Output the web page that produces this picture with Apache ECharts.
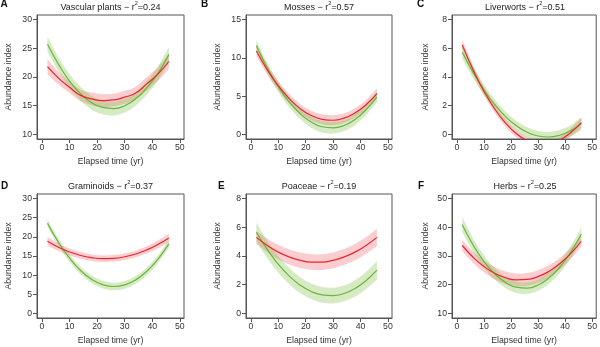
<!DOCTYPE html>
<html>
<head>
<meta charset="utf-8">
<script src="https://cdn.jsdelivr.net/npm/echarts@6/dist/echarts.min.js"></script>
<style>
html,body{margin:0;padding:0;background:#fff;}
#chart{width:600px;height:347px;}
</style>
</head>
<body>
<div id="chart"></div>
<script>
// ---------------- data ----------------
const years = [2, 6, 10, 14, 18, 22, 26, 30, 34, 38, 42, 46];
const xTicks = [0, 10, 20, 30, 40, 50];

const panelLetters = ['A', 'B', 'C', 'D', 'E', 'F'];
const panelTitles = ['Vascular plants', 'Mosses', 'Liverworts', 'Graminoids', 'Poaceae', 'Herbs'];
const panelR2 = ['0.24', '0.57', '0.51', '0.37', '0.19', '0.25'];

const yTicksA = [10, 15, 20, 25, 30];
const yTicksB = [0, 5, 10, 15];
const yTicksC = [0, 2, 4, 6, 8];
const yTicksD = [0, 5, 10, 15, 20, 25, 30];
const yTicksE = [0, 2, 4, 6, 8];
const yTicksF = [10, 20, 30, 40, 50];

// A - Vascular plants
const vascRed     = [21.8, 19.8, 18.2, 16.8, 16.2, 15.9, 16.0, 16.5, 17.2, 18.8, 20.5, 22.7];
const vascRedLo   = [20.5, 18.7, 17.2, 15.8, 15.1, 14.8, 14.9, 15.4, 16.1, 17.6, 19.3, 21.4];
const vascRedHi   = [23.1, 20.9, 19.2, 17.8, 17.3, 17.0, 17.1, 17.6, 18.3, 20.0, 21.7, 24.0];
const vascGreen   = [25.7, 22.2, 19.3, 17.1, 15.5, 14.7, 14.5, 15.0, 16.2, 18.1, 20.6, 23.9];
const vascGreenLo = [24.4, 21.0, 18.1, 15.9, 14.3, 13.5, 13.3, 13.8, 15.0, 16.9, 19.4, 22.6];
const vascGreenHi = [27.0, 23.4, 20.5, 18.3, 16.7, 15.9, 15.7, 16.2, 17.4, 19.3, 21.8, 25.2];

// B - Mosses
const mossRed     = [10.9, 8.42, 6.35, 4.67, 3.37, 2.47, 1.97, 1.85, 2.13, 2.81, 3.87, 5.33];
const mossRedLo   = [10.2, 7.80, 5.75, 4.07, 2.77, 1.85, 1.32, 1.20, 1.50, 2.20, 3.25, 4.63];
const mossRedHi   = [11.6, 9.05, 6.95, 5.27, 3.97, 3.10, 2.62, 2.50, 2.75, 3.42, 4.50, 6.03];
const mossGreen   = [11.6, 8.67, 6.22, 4.22, 2.69, 1.61, 1.00, 0.86, 1.17, 1.96, 3.20, 4.90];
const mossGreenLo = [10.9, 8.00, 5.57, 3.55, 2.00, 0.88, 0.25, 0.11, 0.43, 1.24, 2.50, 4.20];
const mossGreenHi = [12.3, 9.35, 6.87, 4.90, 3.40, 2.35, 1.75, 1.61, 1.90, 2.68, 3.90, 5.60];

// C - Liverworts
const livRed     = [6.24, 4.50, 3.01, 1.77, 0.79, 0.05, -0.44, -0.67, -0.66, -0.40, 0.11, 0.82];
const livRedLo   = [5.89, 4.18, 2.72, 1.50, 0.54, -0.20, -0.70, -0.93, -0.92, -0.66, -0.18, 0.47];
const livRedHi   = [6.59, 4.82, 3.30, 2.04, 1.04, 0.30, -0.18, -0.41, -0.40, -0.14, 0.40, 1.17];
const livGreen   = [5.73, 4.32, 3.11, 2.08, 1.24, 0.60, 0.15, -0.11, -0.18, -0.06, 0.25, 0.75];
const livGreenLo = [5.28, 3.92, 2.74, 1.73, 0.90, 0.26, -0.20, -0.46, -0.53, -0.42, -0.13, 0.30];
const livGreenHi = [6.18, 4.72, 3.48, 2.43, 1.58, 0.94, 0.50, 0.24, 0.17, 0.30, 0.63, 1.20];

// D - Graminoids
const gramRed     = [18.85, 17.29, 16.05, 15.14, 14.56, 14.31, 14.39, 14.80, 15.53, 16.59, 17.98, 19.70];
const gramRedLo   = [17.75, 16.30, 15.12, 14.26, 13.71, 13.46, 13.54, 13.95, 14.66, 15.64, 16.93, 18.60];
const gramRedHi   = [19.95, 18.28, 16.98, 16.02, 15.41, 15.16, 15.24, 15.65, 16.40, 17.54, 19.03, 20.80];
const gramGreen   = [23.57, 18.55, 14.43, 11.22, 8.92, 7.52, 7.03, 7.44, 8.76, 11.00, 14.13, 18.17];
const gramGreenLo = [22.57, 17.60, 13.50, 10.25, 7.92, 6.52, 6.03, 6.44, 7.76, 10.00, 13.13, 17.17];
const gramGreenHi = [24.57, 19.50, 15.36, 12.19, 9.92, 8.52, 8.03, 8.44, 9.76, 12.00, 15.13, 19.17];

// E - Poaceae
const poaRed     = [5.30, 4.73, 4.27, 3.93, 3.70, 3.58, 3.58, 3.70, 3.93, 4.27, 4.73, 5.30];
const poaRedLo   = [4.85, 4.25, 3.76, 3.40, 3.16, 3.04, 3.03, 3.15, 3.38, 3.70, 4.15, 4.70];
const poaRedHi   = [5.75, 5.21, 4.78, 4.46, 4.24, 4.12, 4.13, 4.25, 4.48, 4.84, 5.31, 5.90];
const poaGreen   = [5.66, 4.44, 3.42, 2.60, 1.97, 1.53, 1.29, 1.24, 1.39, 1.74, 2.28, 3.01];
const poaGreenLo = [5.01, 3.84, 2.84, 2.04, 1.42, 0.98, 0.74, 0.69, 0.84, 1.17, 1.68, 2.36];
const poaGreenHi = [6.31, 5.04, 4.00, 3.16, 2.52, 2.08, 1.84, 1.79, 1.94, 2.31, 2.88, 3.66];

// F - Herbs
const herbRed     = [33.66, 29.58, 26.36, 23.96, 22.42, 21.71, 21.84, 22.82, 24.63, 27.29, 30.80, 35.14];
const herbRedLo   = [31.76, 27.60, 24.30, 21.80, 20.22, 19.51, 19.64, 20.62, 22.50, 25.25, 28.85, 33.30];
const herbRedHi   = [35.56, 31.56, 28.42, 26.12, 24.62, 23.91, 24.04, 25.02, 26.76, 29.33, 32.75, 36.98];
const herbGreen   = [40.86, 33.81, 28.12, 23.77, 20.78, 19.14, 18.84, 19.91, 22.32, 26.08, 31.20, 37.66];
const herbGreenLo = [38.26, 31.50, 26.00, 21.77, 18.78, 17.14, 16.84, 17.91, 20.30, 24.00, 29.05, 35.46];
const herbGreenHi = [43.46, 36.12, 30.24, 25.77, 22.78, 21.14, 20.84, 21.91, 24.34, 28.16, 33.35, 39.86];

// ---------------- layout / style ----------------
const FONT = '"Liberation Sans", Arial, Helvetica, sans-serif';
const RED = '#e8262b', GREEN = '#6cb33f';
const RED_BAND = 'rgba(238,90,100,0.30)', GREEN_BAND = 'rgba(120,190,60,0.30)';
const AXIS_COL = '#555';

const panels = [
  {yt: yTicksA, r: vascRed, rl: vascRedLo, rh: vascRedHi, g: vascGreen, gl: vascGreenLo, gh: vascGreenHi},
  {yt: yTicksB, r: mossRed, rl: mossRedLo, rh: mossRedHi, g: mossGreen, gl: mossGreenLo, gh: mossGreenHi},
  {yt: yTicksC, r: livRed, rl: livRedLo, rh: livRedHi, g: livGreen, gl: livGreenLo, gh: livGreenHi},
  {yt: yTicksD, r: gramRed, rl: gramRedLo, rh: gramRedHi, g: gramGreen, gl: gramGreenLo, gh: gramGreenHi},
  {yt: yTicksE, r: poaRed, rl: poaRedLo, rh: poaRedHi, g: poaGreen, gl: poaGreenLo, gh: poaGreenHi},
  {yt: yTicksF, r: herbRed, rl: herbRedLo, rh: herbRedHi, g: herbGreen, gl: herbGreenLo, gh: herbGreenHi}
];

const gridBoxes = [
  {left: 37, top: 15, width: 147, height: 124},
  {left: 246, top: 15, width: 146, height: 124},
  {left: 452, top: 15, width: 146, height: 124},
  {left: 37, top: 194, width: 147, height: 124},
  {left: 246, top: 194, width: 146, height: 124},
  {left: 452, top: 194, width: 146, height: 124}
];
const yNameGaps = [24, 24, 21.5, 24, 24, 21.5];
const letterPos = [[0.5, 4.5], [201, 4.5], [417, 4.5], [1, 186], [218, 186], [418, 186]];

const grids = [], xAxes = [], yAxes = [], series = [], graphics = [];

function pairs(arr) { return years.map((x, j) => [x, arr[j]]); }
function bandTriples(lo, hi) { return years.map((x, j) => [x, lo[j], hi[j]]); }

// Catmull-Rom -> cubic bezier path through pixel points (rendering only)
function curvePath(pts) {
  let d = '';
  for (let k = 0; k < pts.length - 1; k++) {
    const p0 = pts[k - 1] || pts[k], p1 = pts[k], p2 = pts[k + 1], p3 = pts[k + 2] || pts[k + 1];
    const c1x = p1[0] + (p2[0] - p0[0]) / 6, c1y = p1[1] + (p2[1] - p0[1]) / 6;
    const c2x = p2[0] - (p3[0] - p1[0]) / 6, c2y = p2[1] - (p3[1] - p1[1]) / 6;
    d += ' C' + c1x.toFixed(2) + ' ' + c1y.toFixed(2) + ' ' + c2x.toFixed(2) + ' ' + c2y.toFixed(2) + ' ' + p2[0].toFixed(2) + ' ' + p2[1].toFixed(2);
  }
  return d;
}

function bandRenderer(color) {
  return function (params, api) {
    if (params.dataIndexInside !== 0) return null;
    const n = params.dataInsideLength;
    const up = [], low = [];
    for (let k = 0; k < n; k++) {
      up.push(api.coord([api.value(0, k), api.value(2, k)]));
      low.push(api.coord([api.value(0, k), api.value(1, k)]));
    }
    low.reverse();
    const d = 'M' + up[0][0].toFixed(2) + ' ' + up[0][1].toFixed(2) + curvePath(up) +
              ' L' + low[0][0].toFixed(2) + ' ' + low[0][1].toFixed(2) + curvePath(low) + ' Z';
    return {type: 'path', shape: {pathData: d}, style: {fill: color, stroke: null}, silent: true};
  };
}

panels.forEach((p, i) => {
  const gb = gridBoxes[i];
  grids.push(Object.assign({show: true, borderColor: AXIS_COL, borderWidth: 1, backgroundColor: 'transparent', containLabel: false}, gb));

  xAxes.push({
    gridIndex: i, type: 'value', min: -1.8, max: 51.5,
    splitLine: {show: false},
    axisLine: {show: true, onZero: false, lineStyle: {color: AXIS_COL, width: 1}},
    axisTick: {show: true, length: 4, customValues: xTicks, lineStyle: {color: AXIS_COL, width: 1}},
    axisLabel: {customValues: xTicks, margin: 4, color: '#333', fontSize: 8.7, fontFamily: FONT},
    name: 'Elapsed time (yr)', nameLocation: 'middle', nameGap: 18,
    nameTextStyle: {color: '#333', fontSize: 8.7, fontFamily: FONT}
  });

  const t0 = p.yt[0], tn = p.yt[p.yt.length - 1], ext = (tn - t0) * 0.04;
  yAxes.push({
    gridIndex: i, type: 'value', min: t0 - ext, max: tn + ext,
    splitLine: {show: false},
    axisLine: {show: true, onZero: false, lineStyle: {color: AXIS_COL, width: 1}},
    axisTick: {show: true, length: 4, customValues: p.yt, lineStyle: {color: AXIS_COL, width: 1}},
    axisLabel: {customValues: p.yt, margin: 5, color: '#333', fontSize: 8.7, fontFamily: FONT},
    name: 'Abundance index', nameLocation: 'middle', nameGap: yNameGaps[i],
    nameTextStyle: {color: '#333', fontSize: 8.7, fontFamily: FONT}
  });

  const bandBase = {type: 'custom', xAxisIndex: i, yAxisIndex: i, clip: true, silent: true, animation: false,
                    encode: {x: 0, y: [1, 2]}, z: 2};
  series.push(Object.assign({}, bandBase, {data: bandTriples(p.rl, p.rh), renderItem: bandRenderer(RED_BAND)}));
  series.push(Object.assign({}, bandBase, {data: bandTriples(p.gl, p.gh), renderItem: bandRenderer(GREEN_BAND)}));

  const base = {xAxisIndex: i, yAxisIndex: i, type: 'line', smooth: true, symbol: 'none', showSymbol: false, silent: true, animation: false, clip: true};
  series.push(Object.assign({}, base, {data: pairs(p.g), lineStyle: {color: GREEN, width: 1.2}, z: 5}));
  series.push(Object.assign({}, base, {data: pairs(p.r), lineStyle: {color: RED, width: 1.2}, z: 6}));

  // title
  graphics.push({
    type: 'text', x: gb.left + gb.width / 2, y: gb.top - 8.5, silent: true,
    style: {
      text: '{b|' + panelTitles[i] + ' \u2212 r}{s|2}{b|=' + panelR2[i] + '}',
      align: 'center', verticalAlign: 'middle',
      rich: {
        b: {fontSize: 9, fontFamily: FONT, fill: '#222', lineHeight: 12, verticalAlign: 'bottom'},
        s: {fontSize: 5.5, fontFamily: FONT, fill: '#222', lineHeight: 12, verticalAlign: 'top'}
      }
    }
  });
  // panel letter
  graphics.push({
    type: 'text', x: letterPos[i][0], y: letterPos[i][1], silent: true,
    style: {text: panelLetters[i], fontSize: 10, fontWeight: 'bold', fontFamily: FONT, fill: '#111', align: 'left', verticalAlign: 'middle'}
  });
});

const chart = echarts.init(document.getElementById('chart'), null, {renderer: 'canvas'});
chart.setOption({
  animation: false,
  backgroundColor: '#fff',
  grid: grids,
  xAxis: xAxes,
  yAxis: yAxes,
  series: series,
  graphic: {elements: graphics}
});
</script>
</body>
</html>
